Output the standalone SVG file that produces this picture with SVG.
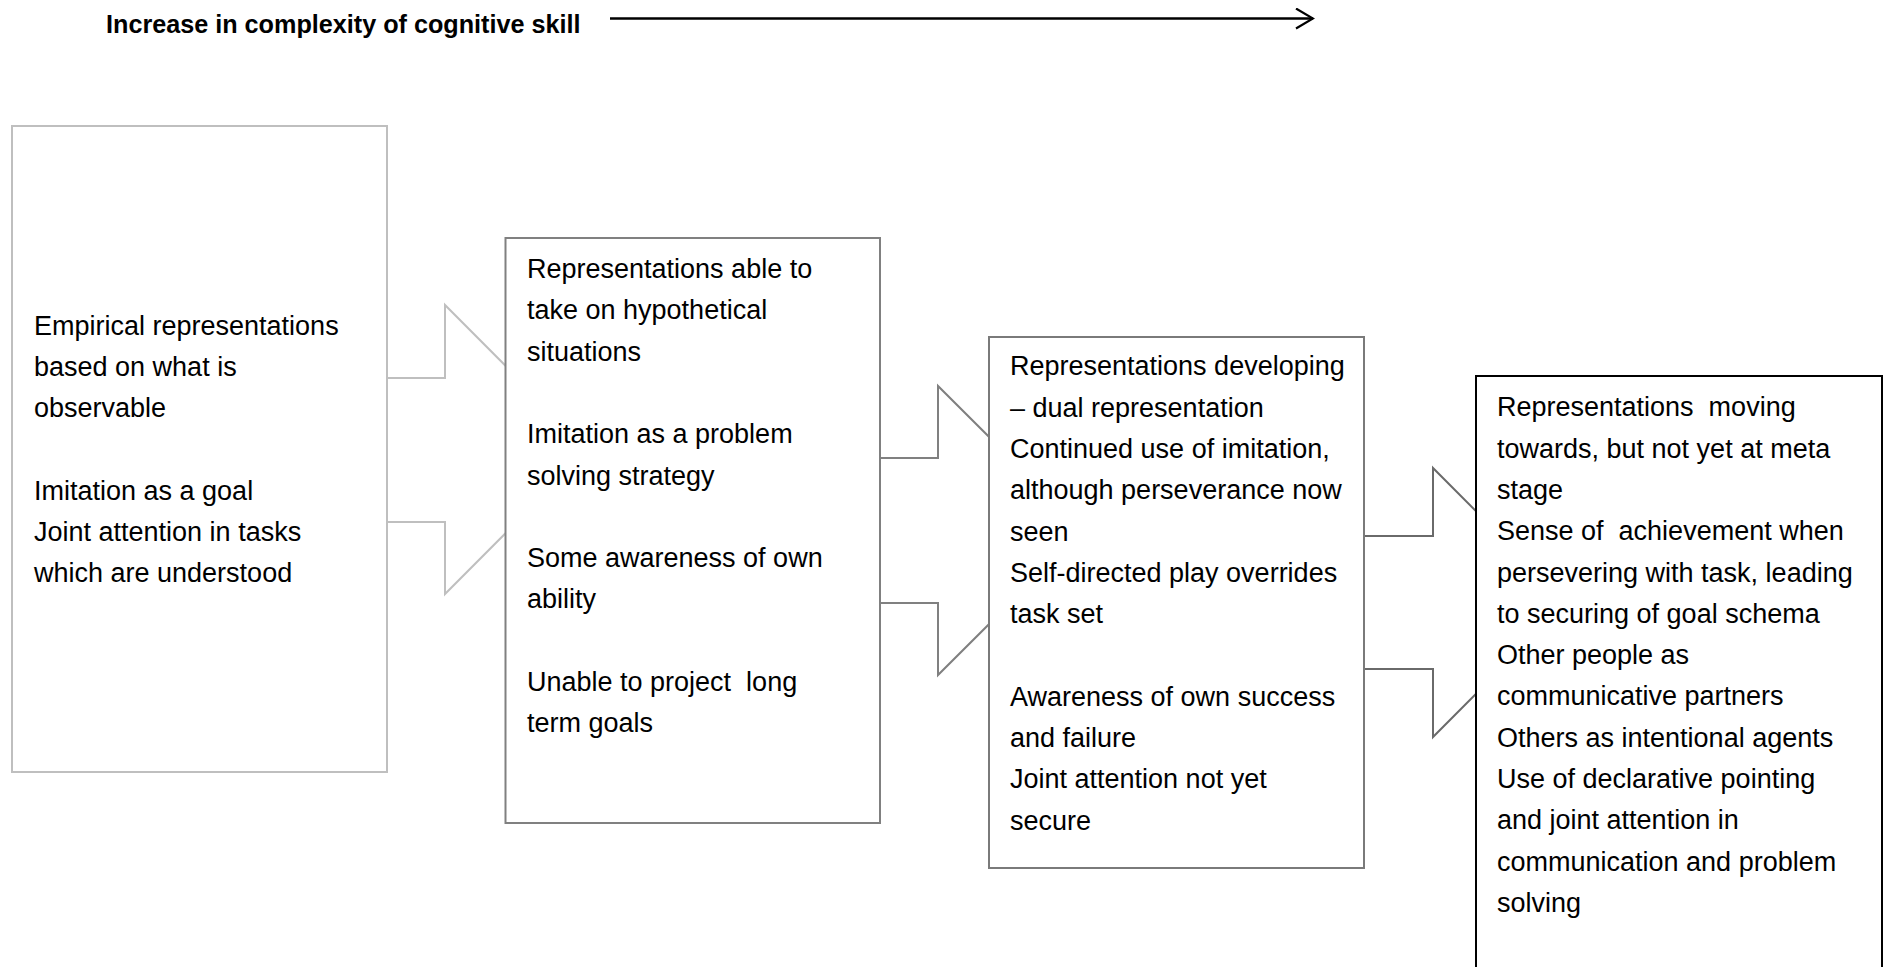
<svg xmlns="http://www.w3.org/2000/svg" width="1886" height="967" viewBox="0 0 1886 967">
  <defs>
    <style>
      .txt { font-family: "Liberation Sans", Arial, sans-serif; font-size: 27px; fill: #000; white-space: pre; }
      .title { font-family: "Liberation Sans", Arial, sans-serif; font-size: 25.2px; font-weight: bold; fill: #000; }
      .box { fill: #fff; stroke-width: 2; }
      .notch { fill: #fff; stroke-width: 2; stroke-linejoin: miter; }
    </style>
    <marker id="openHead" viewBox="0 0 20 22" refX="18" refY="11" markerWidth="20" markerHeight="22" markerUnits="userSpaceOnUse" orient="auto">
      <path d="M1,1 L18,11 L1,21" fill="none" stroke="#000" stroke-width="2.2"/>
    </marker>
  </defs>
  <rect width="1886" height="967" fill="#fff"/>

  <!-- Heading with direction arrow -->
  <g id="heading">
    <text class="title" x="106" y="33">Increase in complexity of cognitive skill</text>
    <line x1="610" y1="18.5" x2="1313" y2="18.5" stroke="#000" stroke-width="2.4" marker-end="url(#openHead)"/>
  </g>

  <!-- Block arrows linking consecutive stages (drawn beneath the boxes) -->
  <g id="connectors">
    <polygon id="arrow-1-2" class="notch" stroke="#bfbfbf" points="360,378 445,378 445,305 589,449.5 445,594 445,522 360,522"/>
    <polygon id="arrow-2-3" class="notch" stroke="#808080" points="850,458 938,458 938,386 1083,530.5 938,675 938,603 850,603"/>
    <polygon id="arrow-3-4" class="notch" stroke="#6a6a6a" points="1340,536 1433,536 1433,468 1567,602.5 1433,737 1433,669 1340,669"/>
  </g>

  <!-- Stage 1 -->
  <g id="stage-1">
    <rect class="box" stroke="#bfbfbf" x="12" y="126" width="375" height="646"/>
    <text class="txt" x="34" y="334.5">Empirical representations</text>
    <text class="txt" x="34" y="375.8">based on what is</text>
    <text class="txt" x="34" y="417.1">observable</text>
    <text class="txt" x="34" y="499.7">Imitation as a goal</text>
    <text class="txt" x="34" y="541">Joint attention in tasks</text>
    <text class="txt" x="34" y="582.3">which are understood</text>
  </g>

  <!-- Stage 2 -->
  <g id="stage-2">
    <rect class="box" stroke="#808080" x="505.5" y="238" width="374.5" height="585"/>
    <text class="txt" x="527" y="278">Representations able to</text>
    <text class="txt" x="527" y="319.3">take on hypothetical</text>
    <text class="txt" x="527" y="360.6">situations</text>
    <text class="txt" x="527" y="443.2">Imitation as a problem</text>
    <text class="txt" x="527" y="484.5">solving strategy</text>
    <text class="txt" x="527" y="567.1">Some awareness of own</text>
    <text class="txt" x="527" y="608.4">ability</text>
    <text class="txt" x="527" y="691">Unable to project  long</text>
    <text class="txt" x="527" y="732.3">term goals</text>
  </g>

  <!-- Stage 3 -->
  <g id="stage-3">
    <rect class="box" stroke="#7a7a7a" x="989" y="337" width="375" height="531"/>
    <text class="txt" x="1010" y="375.4">Representations developing</text>
    <text class="txt" x="1010" y="416.7">– dual representation</text>
    <text class="txt" x="1010" y="458">Continued use of imitation,</text>
    <text class="txt" x="1010" y="499.3">although perseverance now</text>
    <text class="txt" x="1010" y="540.6">seen</text>
    <text class="txt" x="1010" y="581.9">Self-directed play overrides</text>
    <text class="txt" x="1010" y="623.2">task set</text>
    <text class="txt" x="1010" y="705.8">Awareness of own success</text>
    <text class="txt" x="1010" y="747.1">and failure</text>
    <text class="txt" x="1010" y="788.4">Joint attention not yet</text>
    <text class="txt" x="1010" y="829.7">secure</text>
  </g>

  <!-- Stage 4 -->
  <g id="stage-4">
    <rect class="box" stroke="#000" stroke-width="2.4" x="1476" y="376" width="406" height="620"/>
    <text class="txt" x="1497" y="416.3">Representations  moving</text>
    <text class="txt" x="1497" y="457.6">towards, but not yet at meta</text>
    <text class="txt" x="1497" y="498.9">stage</text>
    <text class="txt" x="1497" y="540.2">Sense of  achievement when</text>
    <text class="txt" x="1497" y="581.5">persevering with task, leading</text>
    <text class="txt" x="1497" y="622.8">to securing of goal schema</text>
    <text class="txt" x="1497" y="664.1">Other people as</text>
    <text class="txt" x="1497" y="705.4">communicative partners</text>
    <text class="txt" x="1497" y="746.7">Others as intentional agents</text>
    <text class="txt" x="1497" y="788">Use of declarative pointing</text>
    <text class="txt" x="1497" y="829.3">and joint attention in</text>
    <text class="txt" x="1497" y="870.6">communication and problem</text>
    <text class="txt" x="1497" y="911.9">solving</text>
  </g>
</svg>
